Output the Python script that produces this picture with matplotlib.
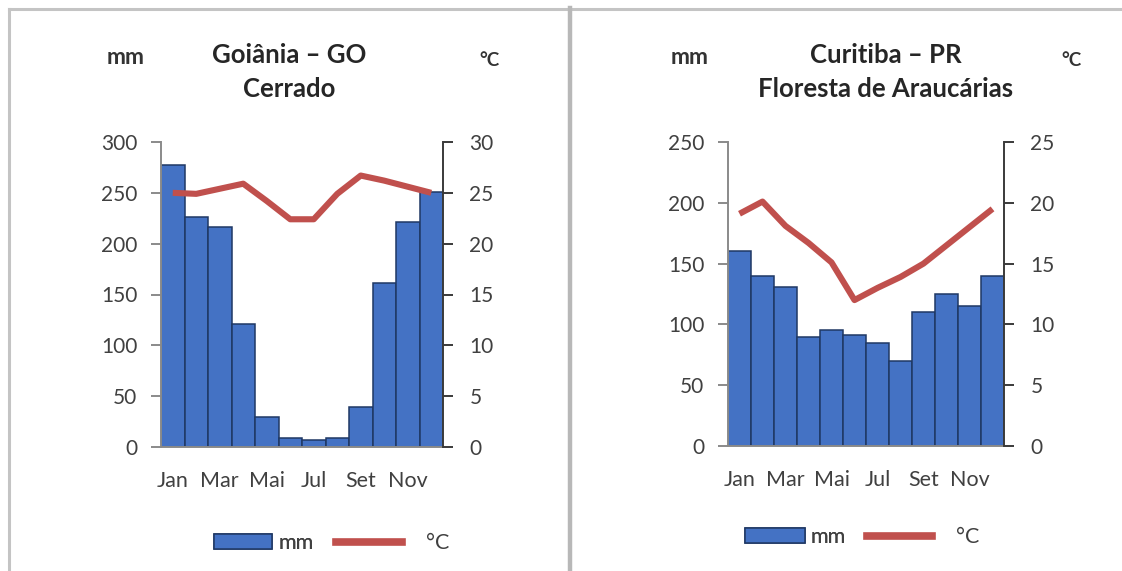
import matplotlib
matplotlib.use("Agg")
import matplotlib.pyplot as plt
from matplotlib.patches import Patch
from matplotlib.lines import Line2D
import numpy as np

plt.rcParams['font.family'] = ['Lato', 'DejaVu Sans']

months = ["Jan", "Fev", "Mar", "Abr", "Mai", "Jun", "Jul", "Ago", "Set", "Out", "Nov", "Dez"]
shown_labels = ["Jan", "Mar", "Mai", "Jul", "Set", "Nov"]

goiania_mm = [277, 226, 216, 121, 30, 9, 7, 9, 39, 161, 221, 251]
goiania_c = [25.0, 24.9, 25.4, 25.9, 24.2, 22.4, 22.4, 24.9, 26.7, 26.2, 25.6, 25.0]

curitiba_mm = [160, 140, 131, 90, 95, 91, 85, 70, 110, 125, 115, 140]
curitiba_c = [19.1, 20.1, 18.1, 16.7, 15.1, 12.0, 13.0, 13.9, 15.0, 16.5, 18.0, 19.5]

BLUE = "#4472C4"
EDGE = "#1F3864"
RED = "#C0504D"
TXT = "#404040"
W, H = 1122, 571

fig = plt.figure(figsize=(W / 100, H / 100), dpi=100)

def fx(px):
    return px / W

def fy(py):
    return 1 - py / H

# panel borders
border = dict(color="#c4c4c4", lw=2.2, transform=fig.transFigure, clip_on=False)
fig.add_artist(Line2D([fx(9), fx(9)], [fy(9), fy(571)], **border))
fig.add_artist(Line2D([fx(9), fx(1122)], [fy(9), fy(9)], **border))
fig.add_artist(Line2D([fx(570), fx(570)], [fy(8), fy(571)], color="#b8b8b8", lw=3.2,
                      transform=fig.transFigure))

FS = 15


def make_chart(rect, mm, temp, mm_max, t_max, title1, title2, cx, mm_x, c_x, leg):
    ax = fig.add_axes(rect)
    x = np.arange(len(months))
    ax.bar(x, mm, width=1.0, color=BLUE, edgecolor=EDGE, linewidth=1.1, zorder=2)
    ax.set_xlim(-0.5, 11.5)
    ax.set_ylim(0, mm_max)
    ax.set_yticks(np.arange(0, mm_max + 1, 50))
    ax.set_xticks(x[::2])
    ax.set_xticklabels(shown_labels)
    ax.tick_params(axis='x', length=0, pad=17, labelsize=FS + 0.5, labelcolor=TXT)
    ax.tick_params(axis='y', direction='out', length=7, width=1.4, color="#8a8a8a",
                   pad=10, labelsize=FS, labelcolor=TXT)
    ax.spines['top'].set_visible(False)
    ax.spines['left'].set_color("#8a8a8a")
    ax.spines['left'].set_linewidth(1.4)
    ax.spines['bottom'].set_color("#8a8a8a")
    ax.spines['bottom'].set_linewidth(1.4)
    ax.spines['right'].set_visible(False)

    ax2 = ax.twinx()
    ax2.plot(x, temp, color=RED, lw=4.4, solid_joinstyle='round', solid_capstyle='butt', zorder=3)
    ax2.set_ylim(0, t_max)
    ax2.set_yticks(np.arange(0, t_max + 1, 5))
    ax2.tick_params(axis='y', direction='out', length=7, width=1.4, color="#3a3a3a",
                    pad=12, labelsize=FS, labelcolor=TXT)
    ax2.spines['top'].set_visible(False)
    ax2.spines['left'].set_visible(False)
    ax2.spines['bottom'].set_visible(False)
    ax2.spines['right'].set_color("#3a3a3a")
    ax2.spines['right'].set_linewidth(1.4)

    fig.text(fx(cx), fy(55), title1, ha='center', va='center', fontsize=18.5,
             fontweight='bold', color="#262626")
    fig.text(fx(cx), fy(89), title2, ha='center', va='center', fontsize=18.5,
             fontweight='bold', color="#262626")
    fig.text(fx(mm_x), fy(58), "mm", ha='center', va='center', fontsize=16.5,
             fontweight='bold', color="#333333")
    fig.text(fx(c_x), fy(61), "°C", ha='center', va='center', fontsize=13.5,
             fontweight='bold', color="#333333")

    (rx, ry, rlen, tx), (lx, ly, llen) = leg
    fs_leg = 15.5
    px_per_fs = fs_leg * 100 / 72
    lg1 = fig.legend([Patch(facecolor=BLUE, edgecolor=EDGE, linewidth=1.1)], ["mm"],
                     loc='center left', bbox_to_anchor=(fx(rx), fy(ry)), frameon=False,
                     fontsize=fs_leg, handlelength=rlen / px_per_fs, handleheight=0.68,
                     handletextpad=tx / px_per_fs, borderpad=0, borderaxespad=0,
                     labelcolor=TXT)
    fig.add_artist(lg1)
    fig.legend([Line2D([0], [0], color=RED, lw=5.5)], ["°C"],
               loc='center left', bbox_to_anchor=(fx(lx), fy(ly)), frameon=False,
               fontsize=fs_leg, handlelength=llen / px_per_fs, handleheight=0.68,
               handletextpad=24 / px_per_fs, borderpad=0, borderaxespad=0,
               labelcolor=TXT)
    return ax, ax2


make_chart([fx(161), fy(447), fx(443) - fx(161), fy(142) - fy(447)],
           goiania_mm, goiania_c, 300, 30, "Goiânia – GO", "Cerrado",
           289, 126, 489, ((214, 543, 58, 6), (336, 543, 66)))
make_chart([fx(728), fy(446), fx(1004) - fx(728), fy(142) - fy(446)],
           curitiba_mm, curitiba_c, 250, 25, "Curitiba – PR", "Floresta de Araucárias",
           886, 690, 1071, ((745, 537, 60, 6), (867, 537, 65)))

fig.savefig("out.png", dpi=100)
